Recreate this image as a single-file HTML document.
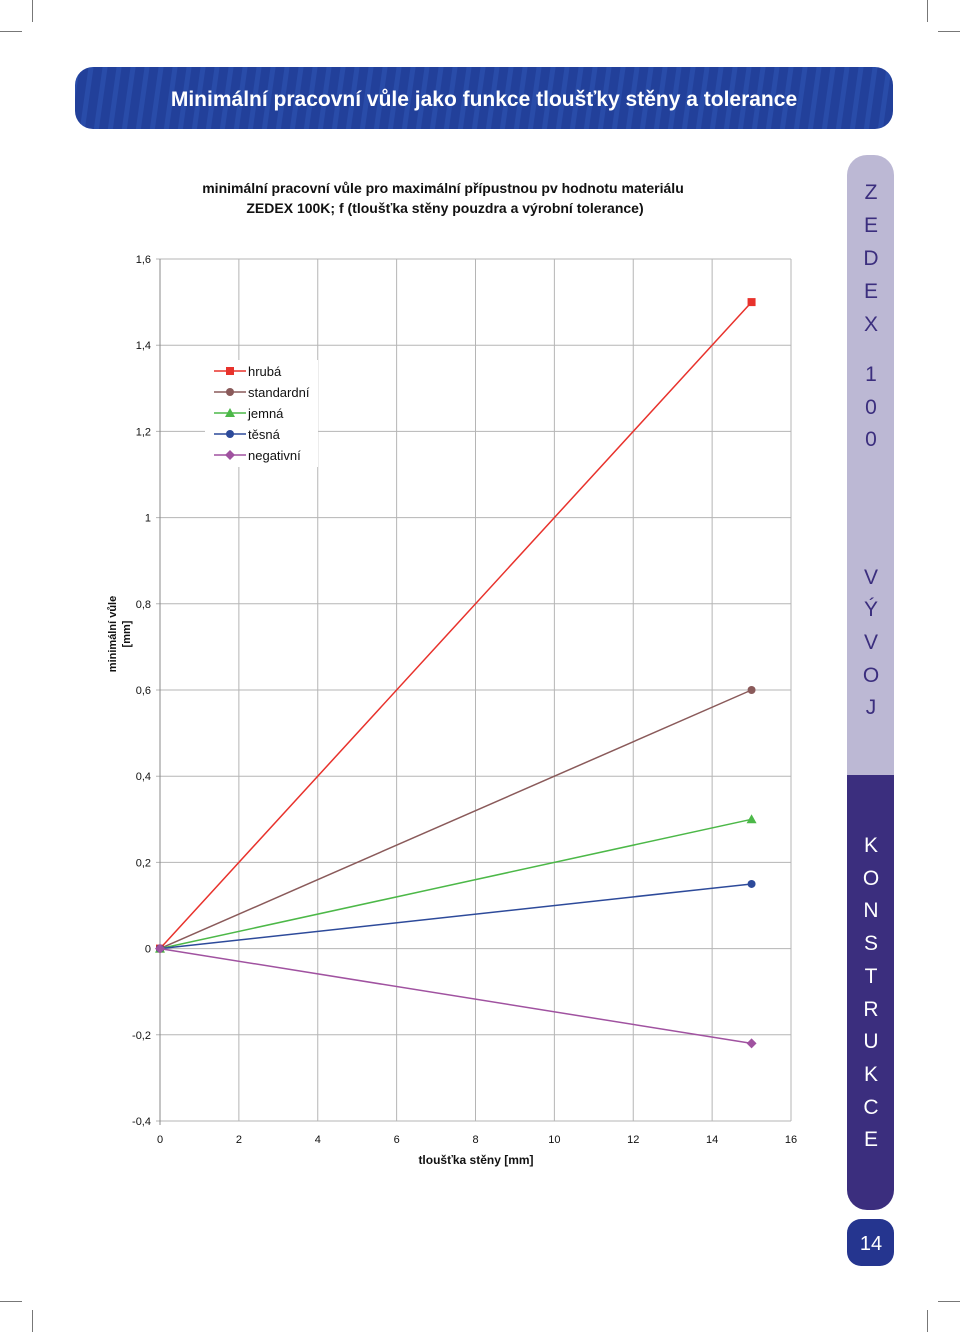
<!DOCTYPE html>
<html><head><meta charset="utf-8">
<style>
html,body{margin:0;padding:0;background:#fff;}
body{width:960px;height:1332px;position:relative;overflow:hidden;font-family:"Liberation Sans",Arial,sans-serif;}
svg{position:absolute;left:0;top:0;}
</style></head>
<body>
<svg width="960" height="1332" viewBox="0 0 960 1332" xmlns="http://www.w3.org/2000/svg">
<defs>
<pattern id="stripes" width="14" height="62" patternUnits="userSpaceOnUse" patternTransform="skewX(-8)">
<rect width="14" height="62" fill="#22409a"/>
<rect x="0" width="5" height="62" fill="#2c52b0" opacity="0.7"/>
</pattern>
</defs>
<g stroke="#777" stroke-width="1">
<line x1="32.5" y1="0" x2="32.5" y2="22"/><line x1="0" y1="31.5" x2="22" y2="31.5"/>
<line x1="927.5" y1="0" x2="927.5" y2="22"/><line x1="938" y1="31.5" x2="960" y2="31.5"/>
<line x1="32.5" y1="1310" x2="32.5" y2="1332"/><line x1="0" y1="1301.5" x2="22" y2="1301.5"/>
<line x1="927.5" y1="1310" x2="927.5" y2="1332"/><line x1="938" y1="1301.5" x2="960" y2="1301.5"/>
</g>
<g>
<rect x="75" y="67" width="818" height="62" rx="18" fill="url(#stripes)"/>
<text x="484" y="106" text-anchor="middle" fill="#fff" font-size="21" font-weight="bold">Minimální pracovní vůle jako funkce tloušťky stěny a tolerance</text>
</g>
<g>
<path d="M847,175 a20,20 0 0 1 20,-20 h7 a20,20 0 0 1 20,20 V775 H847 Z" fill="#bcb8d4"/>
<path d="M847,775 H894 V1190 a20,20 0 0 1 -20,20 h-7 a20,20 0 0 1 -20,-20 Z" fill="#3b2e7e"/>
<g font-size="21" text-anchor="middle" fill="#3b2e7e">
<text x="871" y="199">Z</text><text x="871" y="232">E</text><text x="871" y="265">D</text><text x="871" y="298">E</text><text x="871" y="331">X</text>
<text x="871" y="381">1</text><text x="871" y="414">0</text><text x="871" y="446">0</text>
<text x="871" y="584">V</text><text x="871" y="616">Ý</text><text x="871" y="649">V</text><text x="871" y="682">O</text><text x="871" y="714">J</text>
</g>
<g font-size="21" text-anchor="middle" fill="#fff">
<text x="871" y="852">K</text><text x="871" y="885">O</text><text x="871" y="917">N</text><text x="871" y="950">S</text><text x="871" y="983">T</text><text x="871" y="1016">R</text><text x="871" y="1048">U</text><text x="871" y="1081">K</text><text x="871" y="1114">C</text><text x="871" y="1146">E</text>
</g>
</g>
<g>
<rect x="847" y="1219" width="47" height="47" rx="14" fill="#25358f"/>
<text x="871" y="1250" text-anchor="middle" fill="#fff" font-size="20">14</text>
</g>
<text x="443" y="193" text-anchor="middle" font-size="14" font-weight="bold" fill="#111">minimální pracovní vůle pro maximální přípustnou pv hodnotu materiálu</text>
<text x="445" y="213" text-anchor="middle" font-size="14" font-weight="bold" fill="#111">ZEDEX 100K; f (tloušťka stěny pouzdra a výrobní tolerance)</text>
<g id="grid"></g>
<g id="axes"></g>
<g id="series"></g>
<g>
<rect x="205" y="360" width="113" height="107" fill="#fff"/>
<g id="legend"></g>
</g>
<text x="476" y="1164" text-anchor="middle" font-size="12" font-weight="bold" fill="#111">tloušťka stěny [mm]</text>
<g transform="translate(116,634) rotate(-90)">
<text x="0" y="0" text-anchor="middle" font-size="11" font-weight="bold" fill="#111">minimální vůle</text>
<text x="0" y="14" text-anchor="middle" font-size="11" font-weight="bold" fill="#111">[mm]</text>
</g>
</svg>
<script>
const xTicks=[0,2,4,6,8,10,12,14,16];
const yTicks=[-0.4,-0.2,0,0.2,0.4,0.6,0.8,1,1.2,1.4,1.6];
const yTickLabels=["-0,4","-0,2","0","0,2","0,4","0,6","0,8","1","1,2","1,4","1,6"];
const seriesNames=["hrubá","standardní","jemná","těsná","negativní"];
const seriesColors=["#e8322c","#8a5a5a","#4cb848","#2d4a9a","#a052a0"];
const seriesMarkers=["square","circle","triangle","circle","diamond"];
const xValues=[0,15];
const hruba=[0,1.5];
const standardni=[0,0.6];
const jemna=[0,0.3];
const tesna=[0,0.15];
const negativni=[0,-0.22];
const seriesValues=[hruba,standardni,jemna,tesna,negativni];
const NS="http://www.w3.org/2000/svg";
const X0=160,X1=791,Y0=1121,Y1=259;
function sx(v){return X0+(v-0)/(16-0)*(X1-X0);}
function sy(v){return Y0-(v+0.4)/(1.6+0.4)*(Y0-Y1);}
function mk(tag,attrs,parent){const e=document.createElementNS(NS,tag);for(const k in attrs)e.setAttribute(k,attrs[k]);parent.appendChild(e);return e;}
const grid=document.getElementById('grid'),axes=document.getElementById('axes'),ser=document.getElementById('series'),leg=document.getElementById('legend');
xTicks.forEach(t=>{const l=mk('line',{x1:sx(t),x2:sx(t),y1:Y1,y2:Y0,stroke:'#b5b5b5','stroke-width':1},grid);


const tx=mk('text',{x:sx(t),y:1143,'text-anchor':'middle','font-size':11,fill:'#111'},axes);tx.textContent=t;

});
yTicks.forEach((t,i)=>{const l=mk('line',{x1:X0-4,x2:X1,y1:sy(t),y2:sy(t),stroke:'#b5b5b5','stroke-width':1},grid);


const tx=mk('text',{x:151,y:sy(t)+4,'text-anchor':'end','font-size':11,fill:'#111'},axes);tx.textContent=yTickLabels[i];

});
const ya=mk('line',{x1:X0,x2:X0,y1:Y1,y2:Y0+4,stroke:'#888'},axes);


function marker(type,x,y,c,parent,s){
 if(type==='square')return mk('rect',{x:x-s,y:y-s,width:2*s,height:2*s,fill:c},parent);
 if(type==='circle')return mk('circle',{cx:x,cy:y,r:s,fill:c},parent);
 if(type==='triangle')return mk('polygon',{points:`${x},${y-s-1} ${x-s-1},${y+s} ${x+s+1},${y+s}`,fill:c},parent);
 return mk('polygon',{points:`${x},${y-s-1} ${x+s+1},${y} ${x},${y+s+1} ${x-s-1},${y}`,fill:c},parent);}
seriesValues.forEach((vals,i)=>{
 const pts=vals.map((v,j)=>sx(xValues[j])+','+sy(v)).join(' ');
 const pl=mk('polyline',{points:pts,fill:'none',stroke:seriesColors[i],'stroke-width':1.5},ser);
 
 
 vals.forEach((v,j)=>{const m=marker(seriesMarkers[i],sx(xValues[j]),sy(v),seriesColors[i],ser,4);
 
 });
 const ly=371+i*21;
 const ll=mk('line',{x1:214,x2:246,y1:ly,y2:ly,stroke:seriesColors[i],'stroke-width':1.5},leg);
 
 
 const lm=marker(seriesMarkers[i],230,ly,seriesColors[i],leg,4);
 
 
 const lt=mk('text',{x:248,y:ly+5,'font-size':13,fill:'#111'},leg);lt.textContent=seriesNames[i];
 
 
});
</script>
</body></html>
